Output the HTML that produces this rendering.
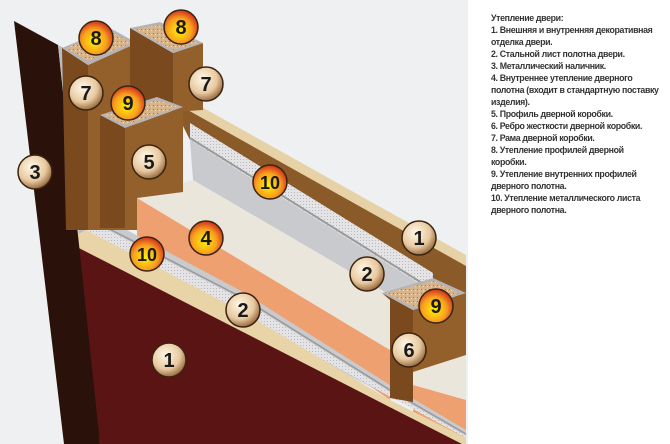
<!DOCTYPE html>
<html><head><meta charset="utf-8"><style>
body{margin:0;width:670px;height:444px;overflow:hidden;background:#fff;position:relative;font-family:"Liberation Sans",sans-serif}
svg{position:absolute;left:0;top:0}
#t{position:absolute;left:491px;top:12px;font-size:8.8px;line-height:12px;font-weight:bold;color:#333;width:179px;letter-spacing:-0.35px;white-space:nowrap}
</style></head><body>
<svg width="670" height="444" viewBox="0 0 670 444">
<defs>
<radialGradient id="rb" cx="40%" cy="35%" r="70%"><stop offset="0" stop-color="#fff8e8"/><stop offset="0.6" stop-color="#e8c9a0"/><stop offset="1" stop-color="#8a5a30"/></radialGradient>
<radialGradient id="rr" cx="45%" cy="60%" r="65%"><stop offset="0" stop-color="#fff200"/><stop offset="0.55" stop-color="#f8a020"/><stop offset="1" stop-color="#c81818"/></radialGradient>
<pattern id="mesh" width="3" height="3" patternUnits="userSpaceOnUse"><rect width="3" height="3" fill="#e4e4e6"/><rect width="1" height="1" fill="#b8b8bc"/></pattern>
<pattern id="cork" width="4" height="4" patternUnits="userSpaceOnUse"><rect width="4" height="4" fill="#d8b48a"/><rect x="1" y="1" width="1" height="1" fill="#a87848"/><rect x="3" y="2" width="1" height="1" fill="#f0d8b8"/></pattern>
</defs>
<rect x="0" y="0" width="468" height="444" fill="#eef0f2"/>
<!-- upper rail -->
<polygon points="163,97 175,92 466,255 466,268" fill="#e6d2a6"/>
<polygon points="170,100 466,266 466,300 433,290 190,140" fill="#8a5a28"/>
<polygon points="190,123 433,273 433,292 190,140" fill="url(#mesh)"/>
<polygon points="190,140 433,292 420,300 390,295 193,180" fill="#c9cacd"/>
<line x1="190" y1="138" x2="430" y2="288" stroke="#999" stroke-width="2"/>
<!-- foam top -->
<polygon points="137,198 193,180 390,295 390,350" fill="#ebe6dc"/>
<polygon points="413,372 466,355 466,400 413,385" fill="#ebe6dc"/>
<!-- orange face -->
<polygon points="137,198 390,350 390,400 243,300 137,240" fill="#efa070"/>
<polygon points="413,385 466,400 466,440 413,420" fill="#efa070"/>
<!-- lower mesh/gray -->
<polygon points="93,212 243,292 390,385 466,430 466,436 73,233 93,225" fill="#c9cacd"/>
<polygon points="96,224 243,300 390,392 466,436 466,438 84,229" fill="url(#mesh)"/>
<polyline points="96,222 243,298 390,390 466,434" fill="none" stroke="#999" stroke-width="1.5"/>
<!-- lower beige edge + face -->
<polygon points="73,233 84,229 243,312 390,400 466,438 466,446 73,245" fill="#e8d4a6"/>
<polygon points="73,245 462,444 100,444" fill="#5a1414"/>
<!-- left dark strip + metal -->
<polygon points="14,21 58,45 100,444 64,444" fill="#2a120a"/>
<polygon points="58,45 64,48 85,230 79,234" fill="#b8bcc0"/>
<!-- box 8 left / 7 -->
<polygon points="62,48 88,65 88,230 66,230" fill="#7a4a1e"/>
<polygon points="88,65 137,43 137,230 88,230" fill="#93602c"/>
<polygon points="62,48 88,65 137,43 110,28" fill="#b4b4b8"/>
<polygon points="66,48 88,61 132,43 110,31" fill="url(#cork)"/>
<!-- box 8 right -->
<polygon points="130,28 173,53 173,112 130,100" fill="#7a4a1e"/>
<polygon points="173,53 203,43 203,110 173,112" fill="#93602c"/>
<polygon points="130,28 173,53 203,43 160,22" fill="#b4b4b8"/>
<polygon points="134,29 173,50 199,43 160,25" fill="url(#cork)"/>
<!-- box 9/5 -->
<polygon points="100,115 125,128 125,228 100,228" fill="#7a4a1e"/>
<polygon points="125,128 183,107 183,192 137,198 137,228 125,228" fill="#93602c"/>
<polygon points="100,115 125,128 183,107 157,97" fill="#b4b4b8"/>
<polygon points="104,115 125,125 178,107 157,100" fill="url(#cork)"/>
<!-- box 9/6 right -->
<polygon points="382,293 413,310 413,402 390,398 390,300" fill="#7a4a1e"/>
<polygon points="413,310 466,293 466,355 413,372" fill="#93602c"/>
<polygon points="382,293 413,310 466,293 433,278" fill="#b4b4b8"/>
<polygon points="386,293 413,307 460,293 433,281" fill="url(#cork)"/>
<g font-family="Liberation Sans" font-weight="bold" font-size="20" text-anchor="middle" fill="#1a1a1a">
<g stroke="#3a2410" stroke-width="1.5">
<circle cx="96" cy="38" r="17" fill="url(#rr)"/><circle cx="181" cy="27" r="17" fill="url(#rr)"/>
<circle cx="86" cy="93" r="17" fill="url(#rb)"/><circle cx="206" cy="84" r="17" fill="url(#rb)"/>
<circle cx="128" cy="103" r="17" fill="url(#rr)"/><circle cx="35" cy="172" r="17" fill="url(#rb)"/>
<circle cx="149" cy="162" r="17" fill="url(#rb)"/><circle cx="270" cy="182" r="17" fill="url(#rr)"/>
<circle cx="147" cy="254" r="17" fill="url(#rr)"/><circle cx="206" cy="238" r="17" fill="url(#rr)"/>
<circle cx="419" cy="238" r="17" fill="url(#rb)"/><circle cx="169" cy="360" r="17" fill="url(#rb)"/>
<circle cx="367" cy="274" r="17" fill="url(#rb)"/><circle cx="243" cy="310" r="17" fill="url(#rb)"/>
<circle cx="436" cy="306" r="17" fill="url(#rr)"/><circle cx="409" cy="350" r="17" fill="url(#rb)"/>
</g>
<text x="96" y="45">8</text><text x="181" y="34">8</text>
<text x="86" y="100">7</text><text x="206" y="91">7</text>
<text x="128" y="110">9</text><text x="35" y="179">3</text>
<text x="149" y="169">5</text><text x="270" y="189" font-size="18">10</text>
<text x="147" y="261" font-size="18">10</text><text x="206" y="245">4</text>
<text x="419" y="245">1</text><text x="169" y="367">1</text>
<text x="367" y="281">2</text><text x="243" y="317">2</text>
<text x="436" y="313">9</text><text x="409" y="357">6</text>
</g>
</svg>
<div id="t">Утепление двери:<br>1. Внешняя и внутренняя декоративная<br>отделка двери.<br>2. Стальной лист полотна двери.<br>3. Металлический наличник.<br>4. Внутреннее утепление дверного<br>полотна (входит в стандартную поставку<br>изделия).<br>5. Профиль дверной коробки.<br>6. Ребро жесткости дверной коробки.<br>7. Рама дверной коробки.<br>8. Утепление профилей дверной<br>коробки.<br>9. Утепление внутренних профилей<br>дверного полотна.<br>10. Утепление металлического листа<br>дверного полотна.</div>
</body></html>
